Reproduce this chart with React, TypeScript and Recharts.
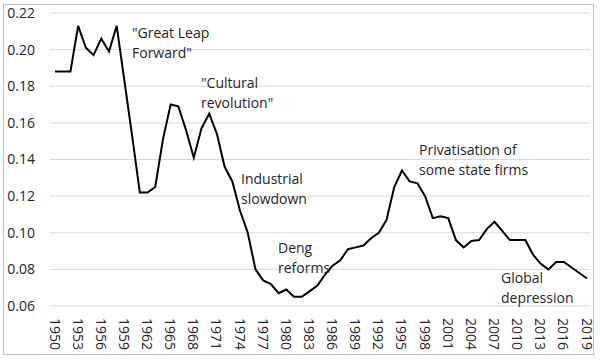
import React from "react";
import {CartesianGrid, Line, LineChart, XAxis, YAxis} from "recharts";

const years = [
  1950, 1951, 1952, 1953, 1954, 1955, 1956, 1957, 1958, 1959,
  1960, 1961, 1962, 1963, 1964, 1965, 1966, 1967, 1968, 1969,
  1970, 1971, 1972, 1973, 1974, 1975, 1976, 1977, 1978, 1979,
  1980, 1981, 1982, 1983, 1984, 1985, 1986, 1987, 1988, 1989,
  1990, 1991, 1992, 1993, 1994, 1995, 1996, 1997, 1998, 1999,
  2000, 2001, 2002, 2003, 2004, 2005, 2006, 2007, 2008, 2009,
  2010, 2011, 2012, 2013, 2014, 2015, 2016, 2017, 2018, 2019,
];

const ratio = [
  0.188, 0.188, 0.188, 0.213, 0.201, 0.197, 0.206, 0.199, 0.213, 0.183,
  0.153, 0.122, 0.122, 0.125, 0.151, 0.170, 0.169, 0.156, 0.141, 0.157,
  0.165, 0.154, 0.136, 0.128, 0.112, 0.100, 0.080, 0.074, 0.072, 0.067,
  0.069, 0.065, 0.065, 0.068, 0.071, 0.077, 0.082, 0.085, 0.091, 0.092,
  0.093, 0.097, 0.100, 0.107, 0.125, 0.134, 0.128, 0.127, 0.120, 0.108,
  0.109, 0.108, 0.096, 0.092, 0.0955, 0.096, 0.102, 0.106, 0.101, 0.096,
  0.096, 0.096, 0.088, 0.083, 0.080, 0.084, 0.084, 0.081, 0.078, 0.075,
];

const yTicks = [0.06, 0.08, 0.10, 0.12, 0.14, 0.16, 0.18, 0.20, 0.22];

const notes = [
  {lines: ['"Great Leap', 'Forward"'], x: 132, y: 38},
  {lines: ['"Cultural', 'revolution"'], x: 201, y: 88},
  {lines: ['Industrial', 'slowdown'], x: 241, y: 184},
  {lines: ['Deng', 'reforms'], x: 278, y: 253},
  {lines: ['Privatisation of', 'some state firms'], x: 419, y: 155},
  {lines: ['Global', 'depression'], x: 501, y: 283},
];

const data = years.map((year, i) => ({year, value: ratio[i]}));

const font = '"Open Sans", sans-serif';
const textColor = '#262626';

const YearTick = (props: any) => {
  const {x, y, payload} = props;
  return (
    <text x={x} y={y} transform={`rotate(90, ${x}, ${y})`} textAnchor="start" dominantBaseline="central"
          fontFamily={font} fontSize={14} fill={textColor}>
      {payload.value}
    </text>
  );
};

export default function App() {
  return (
    <div style={{position: 'absolute', left: 0, top: 0, width: 600, height: 362, background: '#fff'}}>
      <div style={{position: 'absolute', left: 3, top: 4, width: 589, height: 349, border: '1px solid #bfbfbf'}}/>
      <LineChart width={600} height={362} data={data} margin={{top: 13, right: 10, left: 0, bottom: 0}}
                 style={{position: 'absolute', left: 0, top: 0}}>
        <CartesianGrid vertical={false} stroke="#d9d9d9"/>
        <XAxis dataKey="year" interval={2} height={56} axisLine={false} tickLine={false} tickSize={0}
               tickMargin={12} padding={{left: 5, right: 3}} tick={<YearTick/>}/>
        <YAxis type="number" domain={[0.06, 0.22]} ticks={yTicks} width={50} axisLine={false} tickLine={false}
               tickSize={0} tickMargin={15} tickFormatter={(v: number) => v.toFixed(2)}
               tick={{fontFamily: font, fontSize: 14, fill: textColor}}/>
        <Line dataKey="value" stroke="#000" strokeWidth={2} dot={false} isAnimationActive={false}/>
      </LineChart>
      <svg width={600} height={362} style={{position: 'absolute', left: 0, top: 0, pointerEvents: 'none'}}>
        {notes.map((n, i) => (
          <text key={i} x={n.x} y={n.y} fontFamily={font} fontSize={14} fill={textColor}>
            {n.lines.map((l, j) => (
              <tspan key={j} x={n.x} dy={j === 0 ? 0 : 19.5}>{l}</tspan>
            ))}
          </text>
        ))}
      </svg>
    </div>
  );
}
